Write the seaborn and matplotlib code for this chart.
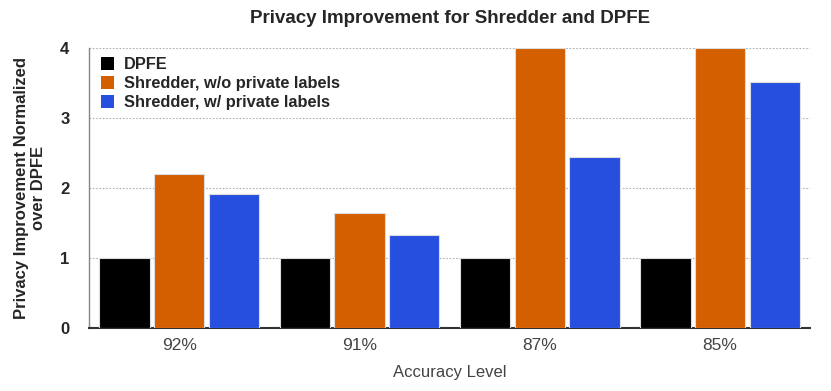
import matplotlib.pyplot as plt
import pandas as pd
import seaborn as sns

# values
accuracy = ["92%", "91%", "87%", "85%"]
dpfe = [1.0, 1.0, 1.0, 1.0]
shredder_no_priv = [2.2, 1.64, 4.0, 4.0]
shredder_priv = [1.92, 1.33, 2.44, 3.51]

series = ["DPFE", "Shredder, w/o private labels", "Shredder, w/ private labels"]
palette = ["#000000", "#D45F00", "#264FE0"]

df = pd.DataFrame({
    "Accuracy": accuracy * 3,
    "Series": [series[0]] * 4 + [series[1]] * 4 + [series[2]] * 4,
    "Value": dpfe + shredder_no_priv + shredder_priv,
})

sns.set_style("white")
plt.rcParams["font.family"] = ["Liberation Sans", "DejaVu Sans"]

fig = plt.figure(figsize=(8.31, 3.91), dpi=100)
ax = fig.add_axes([0.107, 0.161, 0.868, 0.716])

sns.barplot(
    data=df, x="Accuracy", y="Value", hue="Series",
    order=accuracy, hue_order=series, palette=palette,
    width=0.91, gap=0.08, edgecolor="#dddddd", linewidth=0.8,
    saturation=1, ax=ax, zorder=3,
)

ax.set_ylim(0, 4)
ax.set_xlim(-0.5, 3.5)
ax.set_yticks([0, 1, 2, 3, 4])
ax.yaxis.grid(True, linestyle=(0, (1.5, 1.5)), color="#b0b0b0", linewidth=0.8, zorder=0)
ax.xaxis.grid(False)
ax.set_axisbelow(True)

for s in ["top", "right"]:
    ax.spines[s].set_visible(False)
ax.spines["left"].set_color("#888888")
ax.spines["left"].set_linewidth(1.0)
ax.spines["bottom"].set_color("#333333")
ax.spines["bottom"].set_linewidth(1.5)

ax.tick_params(axis="y", length=0, pad=14, labelsize=12)
ax.tick_params(axis="x", length=0, pad=7, labelsize=12.5, labelcolor="#444444")
for lbl in ax.get_yticklabels():
    lbl.set_fontweight("bold")

ax.set_xlabel("Accuracy Level", fontsize=12, color="#444444", labelpad=9)
ax.set_ylabel("Privacy Improvement Normalized\nover DPFE", fontsize=12,
              fontweight="bold", labelpad=10)
ax.set_title("Privacy Improvement for Shredder and DPFE", fontsize=13.5,
             fontweight="bold", pad=18)

leg = ax.legend(loc="upper left", frameon=False, bbox_to_anchor=(-0.004, 1.02),
                handlelength=0.8, handleheight=0.8, handletextpad=0.6,
                labelspacing=0.25, fontsize=11.8, borderaxespad=0.5)
for t in leg.get_texts():
    t.set_fontweight("bold")
for h in leg.legend_handles:
    h.set_edgecolor("none")

fig.savefig("out.png", dpi=100)
